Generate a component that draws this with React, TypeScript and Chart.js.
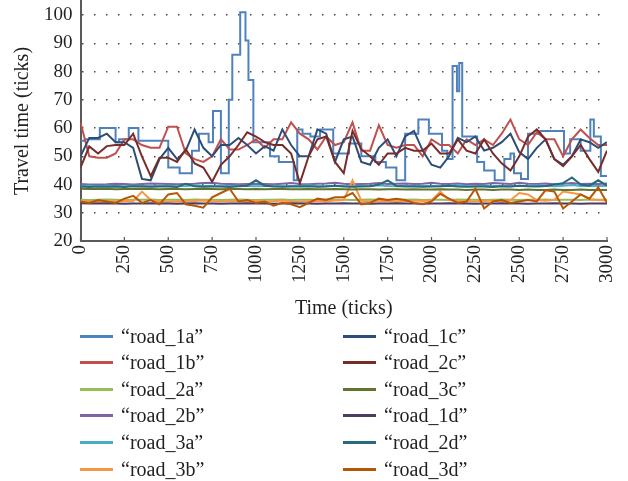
import { useEffect, useRef } from "react";
import { Chart, registerables } from "chart.js";

Chart.register(...registerables);

const FONT = '"Liberation Serif", "Times New Roman", serif';
const TEXT = "#231f20";

const TIMES = [
  0, 50, 100, 150, 200, 250, 300, 350, 400, 450,
  500, 550, 600, 650, 700, 750, 800, 850, 900, 950,
  1000, 1050, 1100, 1150, 1200, 1250, 1300, 1350, 1400, 1450,
  1500, 1550, 1600, 1650, 1700, 1750, 1800, 1850, 1900, 1950,
  2000, 2050, 2100, 2150, 2200, 2250, 2300, 2350, 2400, 2450,
  2500, 2550, 2600, 2650, 2700, 2750, 2800, 2850, 2900, 2950,
  3000,
];

// road_1a has its own (stepped) sample times
const ROAD_1A_T = [
  0, 25, 110, 200, 220, 275, 330, 500, 565, 635, 675, 730, 755, 800, 845, 865,
  910, 940, 957, 985, 1080, 1130, 1215, 1235, 1265, 1310, 1365, 1440, 1530, 1600,
  1680, 1740, 1800, 1850, 1925, 1985, 2060, 2090, 2120, 2145, 2158, 2175, 2260,
  2300, 2360, 2415, 2450, 2470, 2510, 2550, 2620, 2755, 2790, 2850, 2905, 2925,
  2965, 3000,
];
const ROAD_1A = [
  55.5, 56, 60, 55, 56, 60, 55.5, 46, 44, 52, 58, 55, 66, 44, 70, 86,
  101, 91, 77, 55, 50, 48, 41.5, 59.5, 58, 57, 59.5, 51, 54.5, 50,
  48, 46, 41.5, 58, 63, 58, 52, 49, 82, 73, 83, 57, 48,
  45, 41.5, 49, 51, 44, 42, 58, 59, 51, 56, 52, 63, 57,
  43, 43,
];

const ROAD_1B = [
  62, 50, 49.5, 49.5, 51, 56, 56, 54, 53, 53,
  60.5, 60.5, 51, 49, 48, 50, 56, 52.4, 52.4, 54,
  56, 53, 56, 56, 62, 58, 56, 52.4, 57, 54,
  55, 62, 52, 52, 61, 54, 53, 54, 54, 50,
  56, 54, 54, 51, 56, 54, 56, 54, 58, 63,
  56, 54, 58.5, 56, 56, 50, 56, 59.5, 56.5, 54,
  54,
];
const ROAD_1C = [
  50, 56.5, 56.5, 58, 55, 55, 53, 42, 41.5, 49,
  53, 49, 52, 59.5, 53, 50, 54, 54, 56.5, 54,
  51, 53.6, 52, 59.5, 54, 50, 50, 59.5, 58, 48,
  56, 57, 48, 47, 53, 56, 50, 57, 59, 52,
  47, 46, 50, 56.5, 55, 57, 52, 53, 55, 58,
  51.5, 49, 53, 56, 49, 47, 50, 56, 55, 53,
  55,
];
const ROAD_2C = [
  46, 53.5, 51, 53.6, 54, 54, 58, 50, 43, 49.5,
  49.5, 48, 52.5, 47.5, 46, 41, 47, 50, 54, 58.5,
  57, 55, 54, 54, 51, 40.5, 50, 56, 57, 48,
  44, 59, 52.5, 50, 47, 51, 51, 53, 52, 52,
  54.5, 51, 51, 56, 52, 51, 56, 51, 47.5, 45,
  50, 57, 59.5, 56, 49, 46.5, 50, 54, 49, 44.5,
  52,
];
const ROAD_2A = [
  34.6, 34.5, 34.6, 34.7, 34.6, 34.5, 34.6, 34.6, 34.7, 34.5,
  34.6, 34.6, 34.5, 34.7, 34.6, 34.6, 34.5, 34.6, 34.7, 34.6,
  34.5, 34.6, 34.6, 34.7, 34.5, 34.6, 34.6, 34.5, 34.7, 34.6,
  34.6, 34.5, 34.6, 34.7, 34.6, 34.5, 34.6, 34.6, 34.7, 34.5,
  34.6, 34.6, 34.5, 34.7, 34.6, 34.6, 34.5, 34.6, 34.7, 34.6,
  34.5, 34.6, 34.6, 34.7, 34.5, 34.6, 34.6, 34.5, 34.7, 34.6,
  34.6,
];
const ROAD_2B = [
  40.2, 40, 40, 40.1, 40.3, 40.2, 40, 40.2, 40.4, 40.3,
  40.2, 40.1, 40.2, 40.3, 40.5, 40.6, 40.3, 40.2, 40.1, 40.2,
  40.3, 40.2, 40.1, 40.3, 40.5, 40.2, 40.1, 40.3, 40.4, 40.6,
  40.3, 40.1, 40.2, 40.3, 40.5, 40.2, 40.3, 40.4, 40.2, 40.3,
  40.6, 40.3, 40.2, 40.4, 40.1, 40.3, 40.2, 40.5, 40.4, 40.2,
  40.6, 40.3, 40.2, 40.4, 40.1, 40.3, 40.5, 40.2, 40.3, 40.2,
  40.4,
];
const ROAD_3A = [
  39.5, 39.6, 39.4, 39.6, 39.5, 39.4, 39.6, 39.5, 39.4, 39.5,
  39.6, 39.4, 39.5, 39.7, 39.5, 39.6, 39.4, 39.5, 39.6, 39.5,
  39.4, 39.5, 39.6, 39.4, 39.5, 39.5, 39.7, 39.4, 39.5, 39.6,
  39.5, 39.4, 39.6, 39.5, 39.7, 39.5, 39.4, 39.6, 39.5, 39.5,
  39.6, 39.4, 39.5, 39.7, 39.5, 39.4, 39.6, 39.5, 39.5, 39.4,
  39.6, 39.5, 39.7, 39.5, 39.4, 39.6, 39.8, 39.5, 39.6, 39.5,
  39.6,
];
const ROAD_3B = [
  34.2, 34, 33.8, 34.1, 34, 34.2, 34.1, 37.5, 34.5, 34,
  33.9, 34.1, 34, 34.2, 34.3, 34.1, 34, 34.2, 34.1, 34,
  34.2, 34, 34.1, 34.3, 34, 33.9, 34.1, 34.2, 34, 34.3,
  34.5, 41.5, 34.2, 34, 34.1, 34.2, 34, 34.1, 34.3, 34.2,
  34.4, 37.5, 34.5, 34.2, 34.1, 34, 34.2, 34.3, 34.1, 34.4,
  37, 36.5, 34.5, 34.3, 34.6, 37.5, 37, 36.5, 34.8, 34.5,
  34.3,
];
const ROAD_3C = [
  38.5, 38.4, 38.4, 38.5, 38.3, 38.4, 38.4, 38.5, 38.4, 38.3,
  38.4, 38.4, 38.3, 38.4, 38.5, 38.4, 38.3, 38.4, 38.4, 38.3,
  38.4, 38.3, 38.4, 38.4, 38.3, 38.3, 38.4, 38.3, 38.3, 38.4,
  38.3, 38.2, 38.3, 38.3, 38.2, 38.3, 38.3, 38.2, 38.3, 38.2,
  38.2, 38.3, 38.2, 38.2, 38.1, 38.2, 38.2, 38.1, 38.2, 38.2,
  38.1, 38.2, 38.1, 38.1, 38.2, 38.1, 38.1, 38.2, 38.1, 38.1,
  38.1,
];
const ROAD_1D = [
  33.4, 33.3, 33.3, 33.4, 33.3, 33.2, 33.3, 33.3, 33.4, 33.3,
  33.3, 33.2, 33.3, 33.4, 33.3, 33.3, 33.2, 33.3, 33.3, 33.4,
  33.3, 33.3, 33.2, 33.3, 33.4, 33.3, 33.3, 33.2, 33.3, 33.3,
  33.4, 33.3, 33.3, 33.2, 33.3, 33.3, 33.4, 33.3, 33.3, 33.2,
  33.3, 33.3, 33.4, 33.3, 33.3, 33.2, 33.3, 33.3, 33.4, 33.3,
  33.3, 33.2, 33.3, 33.3, 33.4, 33.3, 33.3, 33.2, 33.3, 33.3,
  33.3,
];
const ROAD_2D = [
  39.3, 39.1, 39.3, 39.2, 39.3, 39.1, 39.4, 39.3, 39.2, 39.3,
  39.3, 39.1, 40.3, 39.4, 39.2, 39.3, 39.3, 39.1, 39.4, 39.6,
  41.5, 39.6, 39.3, 39.2, 39.3, 39.3, 39.4, 39.2, 39.3, 39.6,
  39.3, 39.2, 39.3, 39.4, 40, 41.5, 39.5, 39.3, 39.3, 39.2,
  39.3, 39.4, 39.6, 39.3, 39.2, 39.3, 39.3, 39.1, 39.4, 39.3,
  39.6, 39.4, 39.3, 39.5, 40, 40.5, 42.5, 40, 39.6, 41.5,
  39.6,
];
const ROAD_3D = [
  34, 33.5, 34.5, 34, 33.5, 35, 36, 33.5, 34.5, 33,
  36.5, 37, 33, 32.5, 31.8, 35.5, 37, 38.5, 34, 34.5,
  33.5, 34, 32.5, 33.5, 33, 32, 33.5, 35, 34.5, 35.5,
  35.5, 37, 33, 33.5, 35, 34.5, 35, 34.5, 33.5, 33,
  34, 36.7, 35, 33.5, 34, 38.5, 31.5, 34, 34.5, 33.5,
  34, 34.5, 34, 38, 37.5, 31.5, 34, 36.5, 35, 39,
  33.5,
];

const LABELS = [
  "road_1a", "road_1b", "road_2a", "road_2b", "road_3a", "road_3b",
  "road_1c", "road_2c", "road_3c", "road_1d", "road_2d", "road_3d",
];
const COLORS = [
  "#4F81BD", "#C0504D", "#9BBB59", "#8064A2", "#4BACC6", "#F79646",
  "#2C4D75", "#772C2A", "#5F7530", "#4D3B62", "#276A7C", "#B65708",
];
const SERIES = [
  ROAD_1A, ROAD_1B, ROAD_2A, ROAD_2B, ROAD_3A, ROAD_3B,
  ROAD_1C, ROAD_2C, ROAD_3C, ROAD_1D, ROAD_2D, ROAD_3D,
];
const X_TICKS = [0, 250, 500, 750, 1000, 1250, 1500, 1750, 2000, 2250, 2500, 2750, 3000];
const Y_TICKS = [20, 30, 40, 50, 60, 70, 80, 90, 100];

const innerTicks = {
  id: "innerTicks",
  afterDraw(chart: any) {
    const xs = chart.scales.x;
    const { ctx, chartArea } = chart;
    ctx.save();
    ctx.strokeStyle = "#5a5a5a";
    ctx.lineWidth = 1.2;
    xs.ticks.forEach((t: any) => {
      const px = xs.getPixelForValue(t.value);
      ctx.beginPath();
      ctx.moveTo(px, chartArea.bottom);
      ctx.lineTo(px, chartArea.bottom - 4);
      ctx.stroke();
    });
    ctx.restore();
  },
};

function LegendItem({ label, color, left, top }: { label: string; color: string; left: number; top: number }) {
  return (
    <div style={{ position: "absolute", left, top: top - 13, height: 26, display: "flex", alignItems: "center" }}>
      <div style={{ width: 33, height: 0, borderTop: `3px solid ${color}`, marginRight: 8 }} />
      <span style={{ font: `20px ${FONT}`, color: TEXT, whiteSpace: "nowrap" }}>{"\u201C" + label + "\u201D"}</span>
    </div>
  );
}

export default function App() {
  const ref = useRef<HTMLCanvasElement>(null);
  useEffect(() => {
    if (!ref.current) return;
    const datasets = SERIES.map((vals, i) => {
      const times = i === 0 ? ROAD_1A_T : TIMES;
      return {
        label: LABELS[i],
        data: vals.map((v, j) => ({ x: times[j], y: v })),
        borderColor: COLORS[i],
        borderWidth: 2,
        pointRadius: 0,
        tension: 0,
        stepped: i === 0 ? true : false,
        fill: false,
      };
    }).reverse();
    const chart = new Chart(ref.current, {
      type: "line",
      data: { datasets },
      options: {
        animation: false,
        responsive: false,
        events: [],
        layout: { padding: { left: 11, right: 21, top: 1, bottom: 2 } },
        plugins: { legend: { display: false }, tooltip: { enabled: false } },
        scales: {
          x: {
            type: "linear",
            min: 0,
            max: 3000,
            afterBuildTicks: (s: any) => {
              s.ticks = X_TICKS.map((v) => ({ value: v }));
            },
            afterFit: (s: any) => {
              s.paddingRight = 0;
              s.paddingLeft = 0;
            },
            ticks: {
              maxRotation: 90,
              minRotation: 90,
              autoSkip: false,
              padding: 4,
              color: TEXT,
              font: { family: FONT, size: 19 },
              callback: (v: any) => String(v),
            },
            grid: { display: false, drawTicks: false },
            border: { color: "#5a5a5a", width: 2 },
            title: {
              display: true,
              text: "Time (ticks)",
              color: TEXT,
              font: { family: FONT, size: 20 },
              padding: { top: 10, bottom: 2 },
            },
          },
          y: {
            type: "linear",
            min: 20,
            max: 105,
            afterBuildTicks: (s: any) => {
              s.ticks = Y_TICKS.map((v) => ({ value: v }));
            },
            afterFit: (s: any) => {
              s.paddingTop = 0;
              s.paddingBottom = 0;
            },
            ticks: {
              padding: 8,
              color: TEXT,
              font: { family: FONT, size: 19 },
            },
            grid: { color: "#4a4a4a", lineWidth: 1.5, drawTicks: false },
            border: { color: "#5a5a5a", width: 2, dash: [1.5, 10.5] },
            title: {
              display: true,
              text: "Travel time (ticks)",
              color: TEXT,
              font: { family: FONT, size: 20 },
              padding: { top: 0, bottom: 1 },
            },
          },
        },
      },
      plugins: [innerTicks],
    } as any);
    return () => chart.destroy();
  }, []);

  const rows = [336, 362, 389, 415, 442, 469];
  return (
    <div style={{ position: "fixed", left: 0, top: 0, width: 628, height: 481, background: "#fff" }}>
      <canvas ref={ref} width={628} height={325} style={{ position: "absolute", left: 0, top: 0, width: 628, height: 325 }} />
      {rows.map((y, r) => (
        <LegendItem key={"l" + r} label={LABELS[r]} color={COLORS[r]} left={80} top={y} />
      ))}
      {rows.map((y, r) => (
        <LegendItem key={"r" + r} label={LABELS[r + 6]} color={COLORS[r + 6]} left={343} top={y} />
      ))}
    </div>
  );
}
